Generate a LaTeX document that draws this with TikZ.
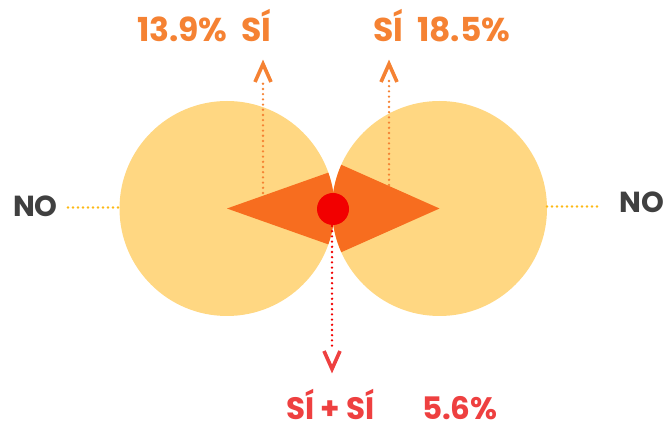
\documentclass[tikz,border=0pt]{standalone}
\usepackage{fontspec}
\setmainfont{Poppins}
\definecolor{circ}{HTML}{FFD782}
\definecolor{sect}{HTML}{F76D1F}
\definecolor{dotred}{HTML}{F20000}
\definecolor{txtor}{HTML}{F58233}
\definecolor{txtred}{HTML}{EE4040}
\definecolor{nogray}{HTML}{404040}
\definecolor{nodot}{HTML}{FDB913}
\tikzset{
  dotline/.style={line width=2.6pt, line cap=round, dash pattern=on 0pt off 5.2pt},
  chev/.style={line width=3.6pt, miter limit=10},
  lbl/.style={inner sep=0pt, outer sep=0pt, font=\bfseries\fontsize{33}{33}\selectfont},
  blbl/.style={inner sep=0pt, outer sep=0pt, font=\bfseries\fontsize{31}{31}\selectfont},
  nolbl/.style={inner sep=0pt, outer sep=0pt, font=\bfseries\fontsize{29}{29}\selectfont, text=nogray},
}
\begin{document}
\begin{tikzpicture}[x=1pt,y=-1pt]
\useasboundingbox (0,0) rectangle (664,427);
% circles
\coordinate (cl) at (227,208.5);
\coordinate (cr) at (439.5,208.5);
\fill[circ] (cl) circle (107.5);
\fill[circ] (cr) circle (107.5);
% sectors
\fill[sect] (cl) -- ++(-19.5:107.5) arc[start angle=-19.5, end angle=19.5, radius=107.5] -- cycle;
\fill[sect] (cr) -- ++(180-24:107.5) arc[start angle=180-24, end angle=180+24, radius=107.5] -- cycle;
% center dot
\node[circle, fill=dotred, minimum size=32pt, inner sep=0pt] (mid) at (333,209) {};
% dotted connectors
\coordinate (l1) at (263,193);
\coordinate (l2) at (263,80);
\coordinate (r1) at (389,185);
\coordinate (r2) at (389,80);
\coordinate (b1) at (332,226);
\coordinate (b2) at (332,350);
\draw[dotline, txtor] (l1) -- (l2);
\draw[dotline, txtor] (r1) -- (r2);
\draw[dotline, dotred] (b1) -- (b2);
\coordinate (nl1) at (68,207.5);
\coordinate (nl2) at (120,207.5);
\coordinate (nr1) at (547,206.5);
\coordinate (nr2) at (600,206.5);
\draw[dotline, nodot, dash pattern=on 0pt off 5pt] (nl1) -- (nl2);
\draw[dotline, nodot, dash pattern=on 0pt off 5pt] (nr1) -- (nr2);
% chevrons
\draw[chev, txtor] (255,82) -- (263,64) -- (271,82);
\draw[chev, txtor] (381,82) -- (389,64) -- (397,82);
\draw[chev, txtred] (324,351) -- (332,369) -- (340,351);
% labels
\node[lbl, text=txtor, anchor=base west] (t1) at (137,42) {13.9\%\ \ SÍ};
\node[lbl, text=txtor, anchor=base west] (t2) at (373,42) {SÍ\ \ 18.5\%};
\node[blbl, text=txtred, anchor=base west] (t3) at (286,420) {SÍ + SÍ};
\node[blbl, text=txtred, anchor=base west] (t4) at (422,420) {5.6\%};
\node[nolbl, anchor=base west] (n1) at (13,217) {NO};
\node[nolbl, anchor=base east] (n2) at (664,213) {NO};
\end{tikzpicture}
\end{document}
